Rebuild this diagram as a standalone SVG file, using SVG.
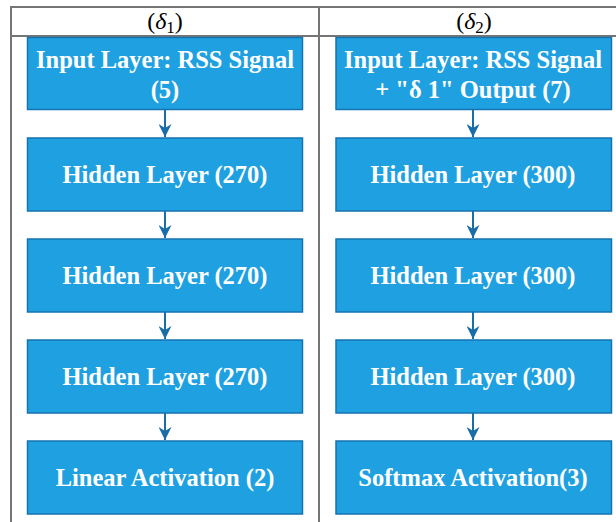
<svg xmlns="http://www.w3.org/2000/svg" width="616" height="522" viewBox="0 0 616 522">
<defs>
<style>
.grid{stroke:#757575;stroke-width:2;fill:none}
.box{fill:#1fa1e1;stroke:#1673b0;stroke-width:1.5}
.lbl{font-family:"Liberation Serif","Times New Roman",serif;font-weight:bold;font-size:24.5px;fill:#ffffff;text-anchor:middle}
.hdr{font-family:"Liberation Serif","Times New Roman",serif;font-size:24px;fill:#000000;text-anchor:middle}
.conn{stroke:#1a6ea8;stroke-width:2;fill:none;marker-end:url(#ah)}
</style>
<marker id="ah" viewBox="0 0 10 10" refX="10" refY="5" markerWidth="13" markerHeight="13" markerUnits="userSpaceOnUse" orient="auto">
<path d="M0,0 L10,5 L0,10 L3,5 z" fill="#1a6ea8"/>
</marker>
</defs>
<rect width="616" height="522" fill="#ffffff"/>
<g id="table">
<path class="grid" d="M11,522 V7 H620 M11,36 H620 M319,7 V522"/>
<text class="hdr" x="165" y="29">(<tspan font-style="italic">δ</tspan><tspan font-size="17" dy="4">1</tspan><tspan dy="-4">)</tspan></text>
<text class="hdr" x="474" y="29">(<tspan font-style="italic">δ</tspan><tspan font-size="17" dy="4">2</tspan><tspan dy="-4">)</tspan></text>
</g>
<g id="connectors">
<path class="conn" d="M165,110 V137"/>
<path class="conn" d="M165,211 V238"/>
<path class="conn" d="M165,312 V339"/>
<path class="conn" d="M165,413 V440"/>
<path class="conn" d="M473,110 V137"/>
<path class="conn" d="M473,211 V238"/>
<path class="conn" d="M473,312 V339"/>
<path class="conn" d="M473,413 V440"/>
</g>
<g id="l1"><rect class="box" x="27.5" y="37.5" width="275" height="72"/><text class="lbl" x="165" y="68">Input Layer: RSS Signal</text><text class="lbl" x="165" y="98">(5)</text></g>
<g id="l2"><rect class="box" x="27.5" y="138" width="275" height="73"/><text class="lbl" x="165" y="183">Hidden Layer (270)</text></g>
<g id="l3"><rect class="box" x="27.5" y="239" width="275" height="73"/><text class="lbl" x="165" y="284">Hidden Layer (270)</text></g>
<g id="l4"><rect class="box" x="27.5" y="340" width="275" height="73"/><text class="lbl" x="165" y="385">Hidden Layer (270)</text></g>
<g id="l5"><rect class="box" x="27.5" y="441" width="275" height="73"/><text class="lbl" x="165" y="486">Linear Activation (2)</text></g>
<g id="r1"><rect class="box" x="336" y="37.5" width="275.5" height="72"/><text class="lbl" x="473" y="68">Input Layer: RSS Signal</text><text class="lbl" x="473" y="98">+ "δ 1" Output (7)</text></g>
<g id="r2"><rect class="box" x="336" y="138" width="275.5" height="73"/><text class="lbl" x="473" y="183">Hidden Layer (300)</text></g>
<g id="r3"><rect class="box" x="336" y="239" width="275.5" height="73"/><text class="lbl" x="473" y="284">Hidden Layer (300)</text></g>
<g id="r4"><rect class="box" x="336" y="340" width="275.5" height="73"/><text class="lbl" x="473" y="385">Hidden Layer (300)</text></g>
<g id="r5"><rect class="box" x="336" y="441" width="275.5" height="73"/><text class="lbl" x="473" y="486">Softmax Activation(3)</text></g>
</svg>
